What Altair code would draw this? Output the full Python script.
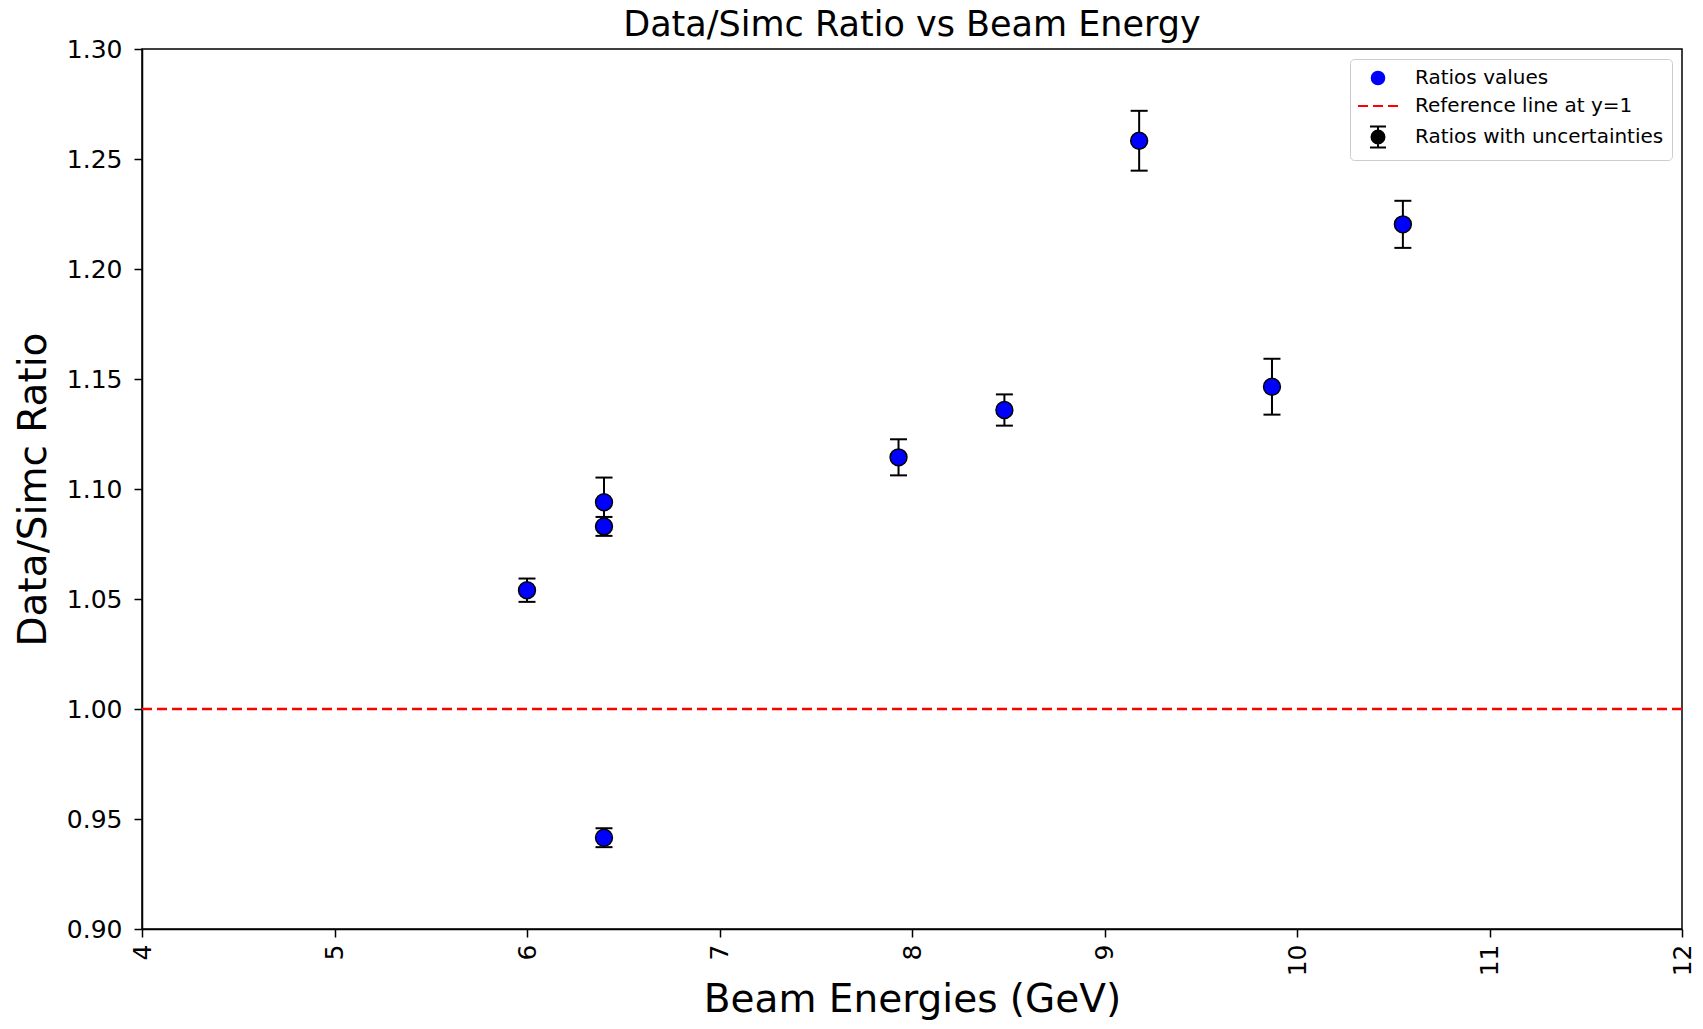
import altair as alt
import pandas as pd

# ---- data ----
energies = [6.0, 6.4, 6.4, 6.4, 7.93, 8.48, 9.18, 9.87, 10.55]
ratios = [1.054, 1.094, 1.083, 0.9415, 1.1144, 1.1359, 1.2583, 1.1465, 1.2203]
errors = [0.0053, 0.0112, 0.0043, 0.0043, 0.0082, 0.0071, 0.0136, 0.0127, 0.0107]
ref_value = [1.0]
x_ticks = [4, 5, 6, 7, 8, 9, 10, 11, 12]
y_ticks = [0.90, 0.95, 1.00, 1.05, 1.10, 1.15, 1.20, 1.25, 1.30]
legend_labels = ["Ratios values", "Reference line at y=1", "Ratios with uncertainties"]
legend_colors = ["blue", "red", "black"]
legend_shapes = [
    "M-0.63,0A0.63,0.63,0,1,1,0.63,0A0.63,0.63,0,1,1,-0.63,0Z",
    "M-2,0H-1M-0.5,0H0.5M1,0H2",
    "M-0.8,-1.05H0.8M0,-1.05V1.05M-0.8,1.05H0.8M-0.65,0A0.65,0.65,0,1,1,0.65,0A0.65,0.65,0,1,1,-0.65,0Z",
]

df = pd.DataFrame({"energy": energies, "ratio": ratios, "err": errors})
df["lo"] = df["ratio"] - df["err"]
df["hi"] = df["ratio"] + df["err"]

FONT = "DejaVu Sans"

xscale = alt.Scale(domain=[4, 12], nice=False, zero=False)
yscale = alt.Scale(domain=[0.9, 1.3], nice=False, zero=False)
xaxis = alt.Axis(values=x_ticks, format="d", labelAngle=270, title="Beam Energies (GeV)",
                 titleY=70, titleBaseline="middle", labelPadding=7)
yaxis = alt.Axis(values=y_ticks, format=".2f", title="Data/Simc Ratio",
                 titleX=-109, titleY=440, titleBaseline="middle", labelPadding=12)

X = alt.X("energy:Q", scale=xscale, axis=xaxis)

bars = alt.Chart(df).mark_rule(color="black", strokeWidth=2).encode(
    x=X,
    y=alt.Y("lo:Q", scale=yscale, axis=yaxis),
    y2="hi:Q",
)

caps = alt.Chart(df).transform_fold(["lo", "hi"], as_=["which", "cap"]).mark_tick(
    color="black", orient="horizontal", size=17, thickness=2, opacity=1
).encode(
    x=X,
    y=alt.Y("cap:Q", scale=yscale, axis=yaxis),
)

points = alt.Chart(df).mark_point(
    shape="circle", filled=True, fill="blue", stroke="black", strokeWidth=1.5,
    size=285, opacity=1
).encode(
    x=X,
    y=alt.Y("ratio:Q", scale=yscale, axis=yaxis),
)

ref = alt.Chart(pd.DataFrame({"yref": ref_value})).mark_rule(
    color="red", strokeDash=[10, 5], strokeWidth=2.3
).encode(
    y=alt.Y("yref:Q", scale=yscale, axis=yaxis),
)

leg = alt.Legend(title=None)
legend_layer = alt.Chart(pd.DataFrame({"label": legend_labels})).mark_point(
    filled=True, opacity=0
).encode(
    x=alt.value(0),
    y=alt.value(0),
    shape=alt.Shape("label:N", scale=alt.Scale(domain=legend_labels, range=legend_shapes), legend=leg),
    fill=alt.Fill("label:N", scale=alt.Scale(domain=legend_labels, range=legend_colors), legend=leg),
    stroke=alt.Stroke("label:N", scale=alt.Scale(domain=legend_labels, range=legend_colors), legend=leg),
)

chart = alt.layer(ref, bars, caps, points, legend_layer).properties(
    width=1540,
    height=880,
    title=alt.TitleParams("Data/Simc Ratio vs Beam Energy", offset=-41, baseline="bottom"),
    autosize=alt.AutoSizeParams(type="none"),
    padding={"left": 134, "top": 41, "right": 13, "bottom": 92},
).configure_view(
    stroke="black", strokeWidth=1.5
).configure_axis(
    grid=False,
    domainColor="black", domainWidth=1.5,
    tickColor="black", tickWidth=1.5, tickSize=8,
    labelFont=FONT, labelFontSize=25, labelColor="black",
    titleFont=FONT, titleFontSize=39, titleFontWeight="normal", titleColor="black",
).configure_title(
    font=FONT, fontSize=35, fontWeight="normal", color="black", anchor="middle"
).configure_legend(
    orient="top-right", offset=10,
    fillColor="white", strokeColor="#cccccc", strokeWidth=1, cornerRadius=4,
    padding=8, rowPadding=6,
    labelFont=FONT, labelFontSize=20, labelColor="black", labelOffset=26, labelLimit=400,
    symbolSize=400, symbolStrokeWidth=2, symbolOpacity=1, symbolOffset=9,
)

chart.save("out.html", embed_options={"renderer": "svg", "actions": False})
